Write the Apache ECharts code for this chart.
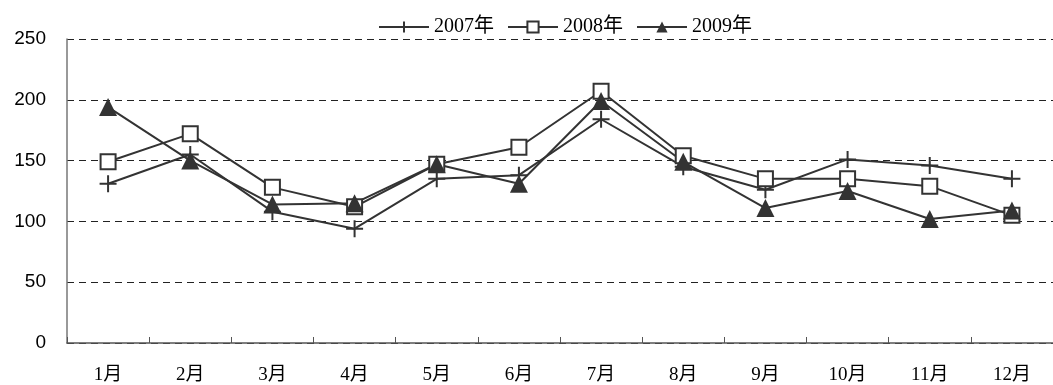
<!DOCTYPE html>
<html>
<head>
<meta charset="utf-8">
<script src="https://cdn.jsdelivr.net/npm/echarts@6/dist/echarts.min.js"></script>
<style>
  html, body { margin: 0; padding: 0; background: #fff; }
  #chart { width: 1053px; height: 385px; }
</style>
</head>
<body>
<div id="chart"></div>
<script>
// Monthly values for three years
const months = ['1月', '2月', '3月', '4月', '5月', '6月', '7月', '8月', '9月', '10月', '11月', '12月'];
const yearNames = ['2007年', '2008年', '2009年'];
const values2007 = [131, 155, 108, 94, 135, 138, 184, 145, 126, 151, 146, 135];
const values2008 = [149, 172, 128, 112, 147, 161, 207, 154, 135, 135, 129, 105];
const values2009 = [194, 150, 114, 115, 147, 131, 199, 149, 111, 125, 102, 109];
const yTicks = { min: 0, max: 250, step: 50 };

const ink = '#333333';
const serifFont = '"Liberation Serif", "Noto Sans CJK SC", serif';
const plusPath = 'path://M0,5 L10,5 M5,0 L5,10';

function lineSeries(name, data, symbol, size, itemStyle) {
  return {
    name: name,
    type: 'line',
    data: data,
    symbol: symbol,
    symbolSize: size,
    showAllSymbol: true,
    lineStyle: { color: ink, width: 2 },
    itemStyle: itemStyle,
    emphasis: { disabled: true },
    animation: false
  };
}

const chart = echarts.init(document.getElementById('chart'), null, { renderer: 'canvas' });
chart.setOption({
  backgroundColor: '#fff',
  animation: false,
  legend: {
    top: 12,
    left: 373,
    itemWidth: 50,
    itemHeight: 14,
    itemGap: 13,
    textStyle: { fontFamily: serifFont, fontSize: 20, color: '#000' },
    data: yearNames
  },
  grid: { left: 67, right: -6, top: 39, bottom: 42 },
  xAxis: {
    type: 'category',
    data: months,
    boundaryGap: true,
    axisLine: { lineStyle: { color: '#555', width: 1.5 } },
    axisTick: { show: true, inside: true, length: 6, lineStyle: { color: '#555' } },
    axisLabel: { margin: 23, fontFamily: serifFont, fontSize: 19, color: '#000' },
    splitLine: { show: false }
  },
  yAxis: {
    type: 'value',
    min: yTicks.min,
    max: yTicks.max,
    interval: yTicks.step,
    axisLine: { show: true, lineStyle: { color: '#777', width: 1.5 } },
    axisTick: { show: false },
    axisLabel: { margin: 21, fontFamily: '"Liberation Sans", Arial, sans-serif', fontSize: 19, color: '#000' },
    splitLine: { show: true, lineStyle: { color: '#222', type: [7, 5], width: 1 } }
  },
  series: [
    lineSeries(yearNames[0], values2007, plusPath, 17, { color: 'rgba(0,0,0,0)', borderColor: ink, borderWidth: 2 }),
    lineSeries(yearNames[1], values2008, 'rect', 15, { color: '#fff', borderColor: ink, borderWidth: 2 }),
    lineSeries(yearNames[2], values2009, 'triangle', 18, { color: ink, borderColor: ink, borderWidth: 0 })
  ]
});
</script>
</body>
</html>
